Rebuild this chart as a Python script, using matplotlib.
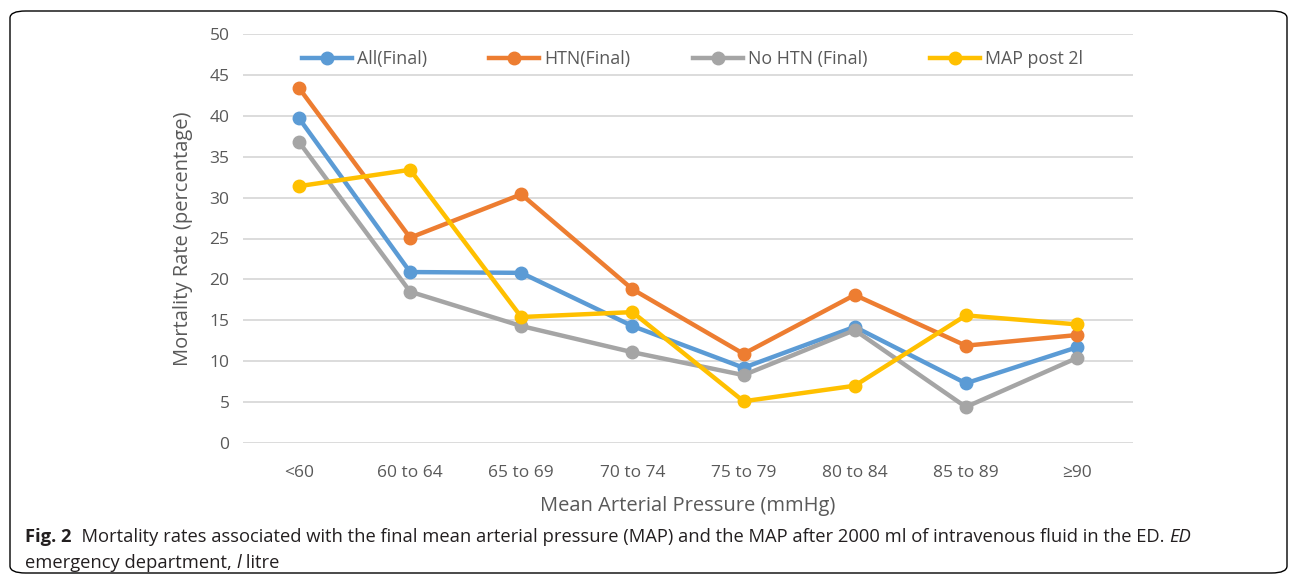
import matplotlib
matplotlib.use("Agg")
import matplotlib.pyplot as plt
from matplotlib.patches import FancyBboxPatch
from matplotlib import font_manager

categories = ["<60", "60 to 64", "65 to 69", "70 to 74", "75 to 79", "80 to 84", "85 to 89", "≥90"]
all_final = [39.7, 20.9, 20.8, 14.3, 9.2, 14.2, 7.3, 11.7]
htn_final = [43.4, 25.1, 30.4, 18.8, 10.9, 18.1, 11.9, 13.2]
no_htn_final = [36.8, 18.5, 14.3, 11.1, 8.3, 13.8, 4.4, 10.4]
map_post_2l = [31.4, 33.4, 15.4, 16.0, 5.1, 7.0, 15.6, 14.5]
series_names = ["All(Final)", "HTN(Final)", "No HTN (Final)", "MAP post 2l"]
colors = ["#5B9BD5", "#ED7D31", "#A5A5A5", "#FFC000"]
yticks = [0, 5, 10, 15, 20, 25, 30, 35, 40, 45, 50]

avail = {f.name for f in font_manager.fontManager.ttflist}
narrow = "Liberation Sans Narrow" if "Liberation Sans Narrow" in avail else "Open Sans"
main_font = "Open Sans"
plt.rcParams['font.family'] = [main_font, 'DejaVu Sans']

fig = plt.figure(figsize=(12.96, 5.83), dpi=100)
ax = fig.add_axes([243.4/1296, 1-443/583, 889.2/1296, 409/583])

x = list(range(len(categories)))
for vals, name, c in zip([all_final, htn_final, no_htn_final, map_post_2l], series_names, colors):
    ax.plot(x, vals, color=c, lw=3.2, marker='o', ms=9, label=name, solid_joinstyle='round')

ax.set_xlim(-0.5, len(categories) - 0.5)
ax.set_ylim(0, 50)
ax.set_yticks(yticks)
ax.set_xticks(x)
ax.set_xticklabels(categories)
ax.grid(axis='y', color='#D9D9D9', lw=1.3)
ax.set_axisbelow(True)
for s in ax.spines.values():
    s.set_visible(False)
ax.tick_params(length=0, labelsize=12.5, colors='#595959', pad=10)
ax.tick_params(axis='x', pad=16)
ax.set_ylabel("Mortality Rate (percentage)", fontsize=14.5, color='#595959', labelpad=12)
ax.set_xlabel("Mean Arterial Pressure (mmHg)", fontsize=14.5, color='#595959', labelpad=11)

leg = ax.legend(loc='upper center', bbox_to_anchor=(0.505, 1.0), ncol=4, frameon=False,
                fontsize=12.8, handlelength=2.8, columnspacing=3.5, handletextpad=0.3,
                labelcolor='#595959')

box = FancyBboxPatch((10/1296, 10/583), 1277/1296, 562/583, boxstyle="round,pad=0,rounding_size=0.012",
                     transform=fig.transFigure, fill=False, edgecolor='black', lw=1.0)
fig.patches.append(box)

cap_kw = dict(fontsize=13.2, family=narrow, va='center', color='#231F20')
fig.canvas.draw()
r = fig.canvas.get_renderer()

def run(xpx, ypx, parts):
    for txt, kw in parts:
        t = fig.text(xpx/1296, 1-ypx/583, txt, **cap_kw, **kw)
        xpx = t.get_window_extent(r).x1

run(25, 537, [("Fig. 2", dict(fontweight='bold')),
              ("  Mortality rates associated with the final mean arterial pressure (MAP) and the MAP after 2000 ml of intravenous fluid in the ED. ", {}),
              ("ED", dict(style='italic'))])
run(25, 563, [("emergency department, ", {}), ("l", dict(style='italic')), (" litre", {})])

fig.savefig("out.png", dpi=100)
